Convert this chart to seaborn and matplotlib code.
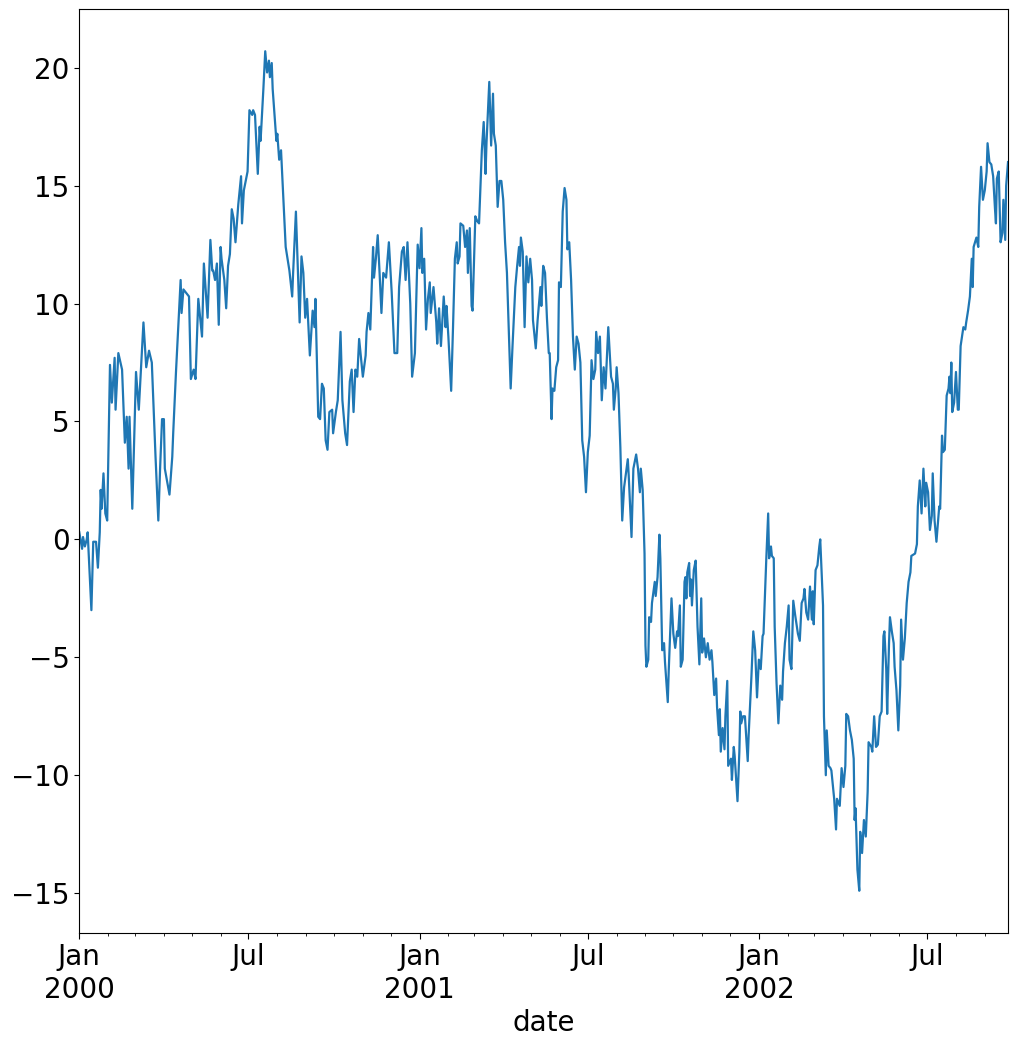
import pandas as pd
import numpy as np
import matplotlib
matplotlib.use("Agg")
import matplotlib.pyplot as plt
import matplotlib.dates as mdates
import seaborn as sns

# Day offsets from 2000-01-01 and the values
days = [0, 3, 4, 6, 8, 9, 13, 15, 18, 20, 22, 23, 24, 26, 28, 30, 33, 35, 38, 39,
        42, 46, 49, 51, 53, 54, 57, 61, 64, 69, 72, 75, 78, 82, 85, 87, 89, 91, 92, 97,
        100, 101, 104, 109, 110, 112, 118, 120, 123, 125, 128, 132, 134, 138, 141, 143, 144, 146, 148, 150,
        152, 153, 156, 158, 160, 162, 164, 166, 168, 171, 174, 175, 177, 181, 183, 186, 187, 189, 192, 194,
        195, 198, 200, 202, 204, 205, 207, 208, 212, 213, 215, 217, 222, 226, 229, 230, 233, 237, 239, 241,
        243, 245, 248, 251, 253, 254, 257, 259, 261, 263, 265, 267, 269, 272, 273, 276, 278, 281, 283, 286,
        288, 291, 293, 295, 297, 299, 301, 305, 308, 309, 311, 313, 316, 317, 319, 321, 323, 325, 327, 330,
        333, 336, 339, 342, 344, 347, 349, 351, 353, 356, 358, 361, 364, 366, 368, 369, 371, 373, 375, 377,
        378, 381, 384, 385, 387, 389, 392, 394, 395, 397, 400, 402, 404, 406, 407, 409, 410, 413, 415, 417,
        418, 420, 422, 423, 426, 428, 430, 433, 435, 437, 438, 441, 443, 445, 446, 448, 450, 452, 454, 456,
        458, 460, 462, 464, 466, 469, 471, 473, 474, 475, 477, 479, 481, 483, 485, 487, 488, 491, 493, 496,
        497, 499, 501, 503, 505, 506, 508, 509, 511, 513, 515, 516, 518, 520, 522, 524, 525, 527, 529, 531,
        533, 535, 537, 539, 541, 543, 545, 547, 549, 551, 553, 555, 556, 558, 560, 562, 564, 566, 569, 572,
        574, 575, 577, 578, 580, 582, 584, 586, 590, 591, 594, 596, 599, 601, 603, 604, 606, 608, 609, 610,
        612, 613, 615, 616, 619, 620, 622, 624, 625, 627, 629, 630, 633, 634, 637, 639, 641, 643, 644, 646,
        647, 649, 651, 652, 653, 654, 656, 657, 658, 659, 661, 663, 665, 667, 669, 670, 672, 674, 676, 678,
        680, 681, 683, 685, 686, 688, 689, 690, 692, 694, 695, 697, 698, 701, 702, 704, 705, 708, 710, 711,
        712, 714, 716, 719, 720, 723, 725, 727, 729, 731, 733, 735, 736, 739, 741, 742, 744, 745, 747, 748,
        750, 752, 754, 756, 757, 759, 761, 763, 764, 766, 768, 770, 773, 775, 777, 779, 780, 782, 784, 786,
        788, 789, 790, 792, 794, 796, 797, 800, 801, 803, 804, 806, 808, 809, 812, 814, 815, 818, 820, 822,
        824, 825, 827, 829, 831, 833, 834, 835, 837, 839, 840, 842, 844, 846, 848, 849, 852, 853, 855, 857,
        859, 861, 863, 865, 866, 868, 869, 871, 872, 874, 876, 877, 879, 881, 883, 884, 886, 888, 890, 892,
        894, 895, 899, 901, 902, 904, 906, 908, 910, 911, 913, 915, 917, 918, 920, 922, 925, 926, 928, 929,
        931, 933, 935, 936, 937, 938, 939, 941, 943, 945, 946, 948, 951, 953, 954, 956, 958, 960, 961, 962,
        965, 967, 968, 970, 972, 974, 976, 977, 979, 981, 983, 985, 986, 987, 989, 991, 993, 994, 996, 997,
        999]

values = [0.3, -0.4, 0.1, -0.3, 0.0, 0.3, -3.0, -0.1, -0.1, -1.2, 0.3, 2.1, 1.3, 2.8, 1.1, 0.8, 7.4, 5.8, 7.7, 5.5,
          7.9, 7.2, 4.1, 5.2, 3.0, 5.2, 1.3, 7.1, 5.5, 9.2, 7.3, 8.0, 7.5, 3.5, 0.8, 3.1, 5.1, 5.1, 3.0, 1.9,
          3.5, 4.5, 7.1, 11.0, 9.6, 10.6, 10.3, 6.8, 7.2, 6.8, 10.2, 8.6, 11.7, 9.4, 12.7, 11.4, 11.4, 11.0, 11.7, 9.1,
          12.4, 11.9, 11.0, 9.8, 11.6, 12.1, 14.0, 13.6, 12.6, 14.2, 15.4, 13.4, 14.8, 15.6, 18.2, 18.0, 18.2, 18.0, 15.5, 17.5,
          16.9, 19.1, 20.7, 19.8, 20.3, 19.6, 20.2, 19.1, 16.9, 17.2, 16.1, 16.5, 12.4, 11.4, 10.3, 11.3, 13.9, 9.2, 12.0, 11.3,
          9.4, 10.2, 7.8, 9.7, 9.0, 10.2, 5.2, 5.1, 6.6, 6.4, 4.2, 3.8, 5.4, 5.5, 4.5, 5.4, 5.9, 8.8, 5.9, 4.5,
          4.0, 6.7, 7.2, 5.4, 7.2, 6.9, 8.5, 6.9, 7.8, 8.8, 9.6, 8.9, 12.4, 11.1, 11.9, 12.9, 11.3, 9.6, 11.3, 11.1,
          12.6, 10.5, 7.9, 7.9, 10.7, 12.2, 12.4, 11.0, 12.6, 10.0, 6.9, 7.9, 12.5, 11.5, 13.2, 11.3, 11.9, 8.9, 10.2, 10.9,
          9.6, 10.7, 9.2, 8.3, 9.8, 8.2, 10.3, 9.0, 9.9, 8.6, 6.3, 9.0, 11.9, 12.6, 11.7, 12.0, 13.4, 13.3, 12.4, 13.1,
          11.3, 13.2, 9.9, 9.7, 13.7, 13.5, 13.4, 16.5, 17.7, 15.5, 16.8, 19.4, 16.7, 18.9, 17.2, 16.7, 14.1, 15.2, 15.2, 14.4,
          12.6, 11.3, 8.8, 6.4, 8.2, 10.7, 11.6, 12.4, 11.6, 12.8, 12.2, 9.0, 12.0, 10.9, 11.9, 11.0, 9.3, 8.1, 9.3, 10.7,
          9.9, 11.6, 11.3, 9.4, 7.9, 7.9, 5.1, 6.4, 6.3, 7.3, 7.6, 10.9, 10.7, 13.9, 14.9, 14.4, 12.3, 12.6, 11.0, 8.6,
          7.2, 8.6, 8.3, 7.5, 4.2, 3.5, 2.0, 3.7, 4.4, 7.6, 6.8, 7.2, 8.8, 7.9, 8.6, 5.9, 7.3, 6.4, 9.0, 6.9,
          6.6, 5.5, 6.4, 7.3, 6.2, 3.9, 0.8, 2.2, 3.4, 2.7, 0.1, 3.0, 3.6, 3.0, 2.0, 3.0, 2.1, -0.6, -4.5, -5.4,
          -5.1, -3.3, -3.5, -2.7, -1.8, -2.4, -1.6, 0.2, -0.8, -4.7, -4.4, -5.2, -6.9, -5.6, -2.5, -4.0, -4.6, -3.9, -4.1, -2.8,
          -5.4, -5.1, -1.8, -1.6, -2.5, -1.4, -1.0, -2.4, -1.7, -2.8, -1.3, -0.9, -3.7, -5.3, -2.5, -4.8, -4.2, -5.0, -4.4, -5.1,
          -4.7, -5.2, -6.6, -5.9, -7.1, -8.3, -7.2, -9.0, -8.0, -8.9, -7.5, -6.0, -9.6, -9.3, -10.2, -8.8, -9.2, -11.1, -9.0, -7.3,
          -7.8, -7.5, -7.5, -9.4, -8.3, -5.8, -3.9, -4.7, -6.7, -5.1, -5.5, -4.1, -4.0, -0.8, 1.1, -0.8, -0.3, -0.7, -0.8, -3.7,
          -6.1, -7.8, -6.2, -6.8, -5.6, -4.4, -3.7, -2.8, -5.1, -5.5, -2.6, -3.2, -4.0, -4.3, -2.7, -2.5, -2.1, -3.1, -3.4, -2.0,
          -3.4, -2.2, -3.6, -1.3, -1.1, -0.3, 0.0, -2.8, -7.5, -10.0, -8.1, -9.6, -9.7, -9.8, -11.0, -12.3, -11.0, -11.3, -9.7, -10.5,
          -9.6, -7.4, -7.5, -8.1, -8.5, -9.3, -11.9, -11.4, -14.0, -14.9, -12.4, -13.3, -11.9, -12.6, -10.7, -8.6, -8.8, -9.0, -7.5, -8.8,
          -8.7, -7.5, -7.3, -4.1, -3.9, -5.5, -7.4, -4.4, -3.3, -3.9, -4.4, -5.4, -6.4, -8.1, -6.2, -3.4, -5.1, -4.2, -2.7, -1.8,
          -1.4, -0.7, -0.6, -0.2, 1.4, 2.5, 1.1, 3.0, 1.4, 2.4, 2.0, 0.4, 1.0, 2.8, 0.8, -0.1, 1.4, 1.3, 4.4, 3.7,
          3.8, 6.1, 6.4, 6.9, 6.2, 7.5, 5.4, 5.8, 7.1, 5.5, 5.5, 8.2, 9.0, 8.9, 9.2, 9.7, 10.3, 11.9, 10.7, 12.4,
          12.8, 12.4, 14.1, 15.8, 14.4, 14.8, 15.6, 16.8, 16.0, 15.9, 15.4, 14.0, 13.4, 15.3, 15.6, 12.6, 13.0, 14.4, 12.7, 15.0,
          16.0]

start = pd.Timestamp("2000-01-01")
df = pd.DataFrame({
    "date": start + pd.to_timedelta(days, unit="D"),
    "value": values,
})

plt.rcParams['font.size'] = 20

fig, ax = plt.subplots(figsize=(10.18, 10.53), dpi=100)
fig.subplots_adjust(left=0.0779, right=0.9902, top=0.9912, bottom=0.1142)

sns.lineplot(data=df, x="date", y="value", ax=ax, color="#1f77b4", linewidth=1.6)

ax.set_xlim(df["date"].iloc[0], df["date"].iloc[-1])
ax.set_ylabel("")
ax.set_xlabel("date")

# pandas-like date ticks: Jan/Jul majors, monthly minors
major_dates = pd.date_range("2000-01-01", "2002-09-01", freq="6MS")
major_labels = []
for d in major_dates:
    if d.month == 1:
        major_labels.append(f"Jan\n{d.year}")
    else:
        major_labels.append("Jul")
ax.set_xticks(major_dates)
ax.set_xticklabels(major_labels)
ax.xaxis.set_minor_locator(mdates.MonthLocator())
ax.tick_params(axis="x", which="major", length=4)
ax.tick_params(axis="x", which="minor", length=2)

fig.savefig("out.png", dpi=100)
